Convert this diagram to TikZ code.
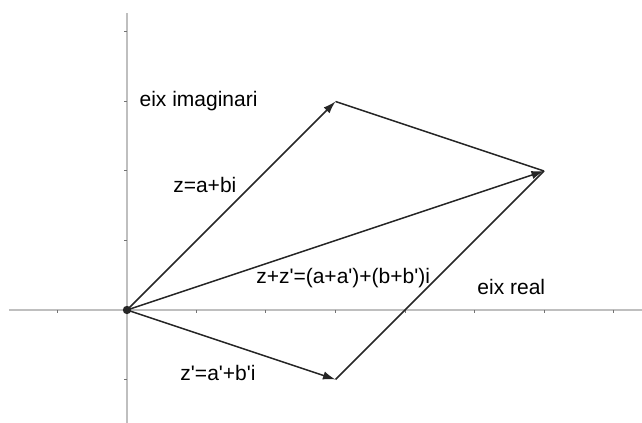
\documentclass[tikz,border=0pt]{standalone}
\usepackage{fontspec}
\setmainfont{Liberation Sans}
\usetikzlibrary{arrows.meta,positioning}
\newcommand{\apos}{\textquotesingle}
\tikzset{
  axisline/.style={draw=black!25, line width=1.2pt},
  tickmark/.style={draw=black!55, line width=0.4pt},
  vectorarrow/.style={-{Latex[length=1.8mm,width=1.2mm]}, draw=black!85, line width=0.6pt},
  sideline/.style={draw=black!85, line width=0.6pt},
  vectorlabel/.style={font=\fontsize{8.6}{10}\selectfont, inner sep=1pt},
}

\begin{document}
\begin{tikzpicture}[x=1cm,y=1cm]
  \useasboundingbox (-1.827,-1.626) rectangle (7.41,4.46);

  % Axes
  \coordinate (xstart) at (-1.70,0);
  \coordinate (xend) at (7.41,0);
  \coordinate (ystart) at (0,-1.626);
  \coordinate (yend) at (0,4.27);
  \draw[axisline] (xstart) -- (xend);
  \draw[axisline] (ystart) -- (yend);

  % Ticks
  \foreach \k in {-1,1,2,...,7}
    \draw[tickmark] (\k,0.0) -- (\k,-0.05);
  \foreach \k in {-1,1,2,3,4}
    \draw[tickmark] (0,\k) -- (-0.05,\k);

  % Points
  \coordinate (orig) at (0,0);
  \coordinate (zpt) at (3,3);
  \coordinate (zppt) at (3,-1);
  \coordinate (sumpt) at (6,2);

  % Parallelogram sides
  \draw[sideline] (zpt) -- (sumpt);
  \draw[sideline] (zppt) -- (sumpt);

  % Vectors
  \draw[vectorarrow] (orig) -- (zpt);
  \draw[vectorarrow] (orig) -- (zppt);
  \draw[vectorarrow] (orig) -- (sumpt);
  \fill[black!85] (orig) circle (0.06);

  % Labels
  \node[vectorlabel] (imaxis) at (1.03,3.00) {eix imaginari};
  \node[vectorlabel] (realaxis) at (5.53,0.33) {eix real};
  \node[vectorlabel] (zlab) at (1.12,1.80) {z=a+bi};
  \node[vectorlabel] (zplab) at (1.31,-0.91) {z\apos=a\apos+b\apos i};
  \node[vectorlabel] (sumlab) at (3.11,0.46) {z+z\apos=(a+a\apos)+(b+b\apos)i};
\end{tikzpicture}
\end{document}
